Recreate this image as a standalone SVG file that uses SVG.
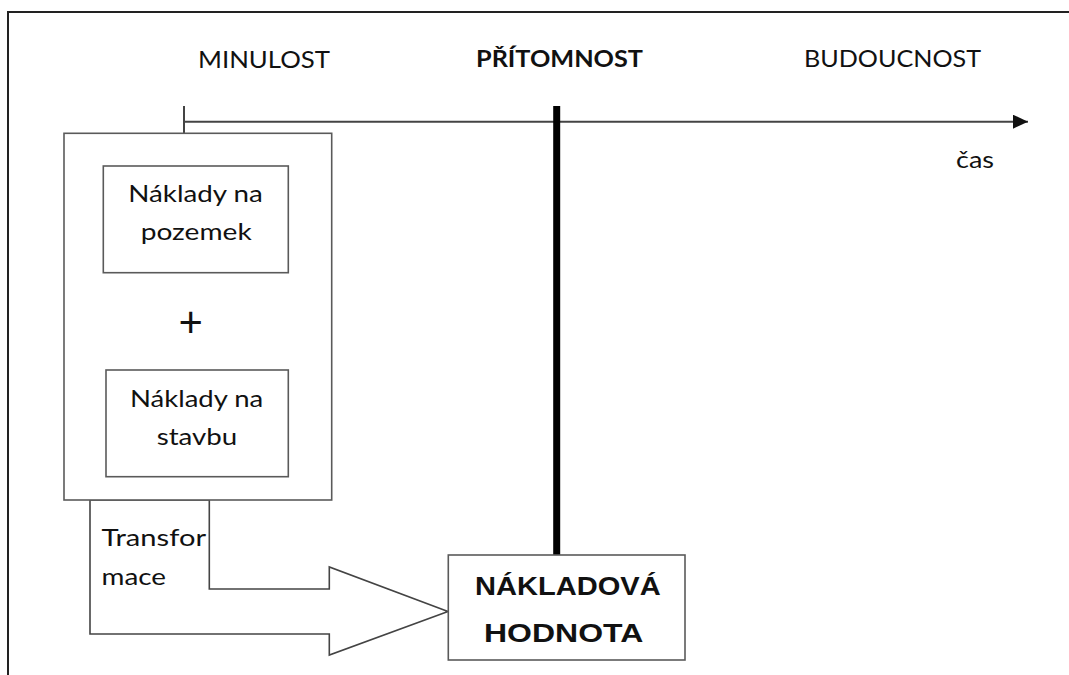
<svg xmlns="http://www.w3.org/2000/svg" width="1069" height="675" viewBox="0 0 1069 675">
  <defs>
    <style>
      .t { font-family: Lato, "Open Sans", "Liberation Sans", sans-serif; font-size: 23.5px; fill: #111; }
      .b { font-weight: bold; }
      .hb { font-family: "Liberation Sans", Arial, sans-serif; font-size: 25.5px; font-weight: bold; fill: #111; }
      .box { fill: #fff; stroke: #5a5a5a; stroke-width: 1.6; }
      .ln { fill: none; stroke: #444; stroke-width: 2; }
    </style>
    <marker id="ah" markerWidth="16" markerHeight="14" refX="15" refY="7" orient="auto" markerUnits="userSpaceOnUse">
      <path d="M0,0 L15,7 L0,14 Z" fill="#111"/>
    </marker>
  </defs>
  <rect width="1069" height="675" fill="#fff"/>

  <!-- outer frame -->
  <path d="M8,675 L8,12 L1069,12" fill="none" stroke="#222" stroke-width="2"/>

  <!-- time labels -->
  <g id="labels">
    <text class="t" x="198" y="67.5" textLength="132" lengthAdjust="spacingAndGlyphs">MINULOST</text>
    <text class="t b" x="476" y="67.3" textLength="167" lengthAdjust="spacingAndGlyphs">PŘÍTOMNOST</text>
    <text class="t" x="804" y="67.3" textLength="177" lengthAdjust="spacingAndGlyphs">BUDOUCNOST</text>
    <text class="t" x="956" y="168" textLength="38" lengthAdjust="spacingAndGlyphs">čas</text>
  </g>

  <!-- connectors -->
  <g id="connectors">
    <line class="ln" x1="184" y1="121.7" x2="1028" y2="121.7" marker-end="url(#ah)"/>
    <line class="ln" x1="184" y1="106" x2="184" y2="133"/>
    <line x1="556.7" y1="106" x2="556.7" y2="555" stroke="#000" stroke-width="7"/>
    <polygon points="209.3,500 209.3,589 329.3,589 329.3,567 448,611.5 329.3,655 329.3,634 90,634 90,500" fill="#fff" stroke="#444" stroke-width="1.6" stroke-linejoin="miter"/>
    <text class="t" x="101.5" y="545.7" textLength="104.5" lengthAdjust="spacingAndGlyphs">Transfor</text>
    <text class="t" x="101.5" y="585" textLength="64.5" lengthAdjust="spacingAndGlyphs">mace</text>
  </g>

  <!-- container node -->
  <g id="naklady">
    <rect class="box" x="64" y="133.3" width="267.7" height="366.7"/>
  </g>
  <g id="pozemek">
    <rect class="box" x="103.3" y="166" width="185" height="106.7"/>
    <text class="t" x="128.3" y="201.7" textLength="134.4" lengthAdjust="spacingAndGlyphs">Náklady na</text>
    <text class="t" x="140.7" y="240.3" textLength="111" lengthAdjust="spacingAndGlyphs">pozemek</text>
  </g>
  <g id="plus">
    <text class="t" x="190.7" y="337" text-anchor="middle" style="font-size:42px">+</text>
  </g>
  <g id="stavba">
    <rect class="box" x="106" y="370" width="182.3" height="106.7"/>
    <text class="t" x="130" y="407" textLength="133.3" lengthAdjust="spacingAndGlyphs">Náklady na</text>
    <text class="t" x="156.7" y="445" textLength="80.6" lengthAdjust="spacingAndGlyphs">stavbu</text>
  </g>
  <g id="hodnota">
    <rect class="box" x="448.3" y="555" width="236.7" height="105"/>
    <text class="hb" x="475" y="595" textLength="185.7" lengthAdjust="spacingAndGlyphs">NÁKLADOVÁ</text>
    <text class="hb" x="484" y="641.7" textLength="159.3" lengthAdjust="spacingAndGlyphs">HODNOTA</text>
  </g>
</svg>
